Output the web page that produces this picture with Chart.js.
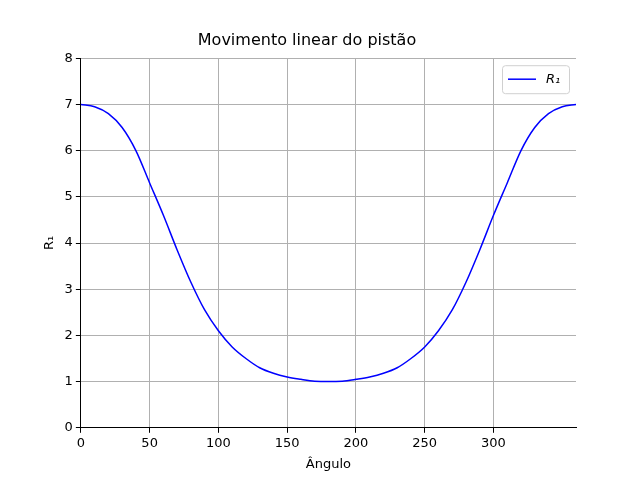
<!DOCTYPE html>
<html>
<head>
<script src="https://cdn.jsdelivr.net/npm/chart.js@4"></script>
<style>body{margin:0;background:#fff}</style>
</head>
<body>
<canvas id="c" width="640" height="480"></canvas>
<script>
// angle in degrees, R1
var angles = [0,10,20,30,40,50,60,70,80,90,100,110,120,130,140,150,160,170,180,
  190,200,210,220,230,240,250,260,270,280,290,300,310,320,330,340,350,360];
var r1 = [7.0,6.95,6.8,6.5,6.0,5.3,4.6,3.85,3.15,2.55,2.1,1.75,1.5,1.3,1.18,1.1,1.05,1.01,1.0,
  1.01,1.05,1.1,1.18,1.3,1.5,1.75,2.1,2.55,3.15,3.85,4.6,5.3,6.0,6.5,6.8,6.95,7.0];
var seriesLabel = 'R\u2081';

var legendBox = {
  id: 'legendBox',
  afterDraw: function(chart) {
    var ctx = chart.ctx, a = chart.chartArea;
    var x = a.right - 74, y = a.top + 7, w = 67, h = 28;
    ctx.save();
    ctx.fillStyle = 'rgba(255,255,255,0.8)';
    ctx.strokeStyle = '#d0d0d0';
    ctx.lineWidth = 1;
    ctx.beginPath();
    ctx.roundRect(x + 0.5, y + 0.5, w, h, 3);
    ctx.fill(); ctx.stroke();
    ctx.strokeStyle = 'blue'; ctx.lineWidth = 1.5;
    ctx.beginPath(); ctx.moveTo(x + 6, y + 14); ctx.lineTo(x + 34, y + 14); ctx.stroke();
    ctx.fillStyle = '#000'; ctx.font = 'italic 13px "DejaVu Sans"';
    ctx.textBaseline = 'middle';
    ctx.fillText(seriesLabel, x + 44, y + 14);
    ctx.restore();
  }
};

Chart.defaults.font.family = '"DejaVu Sans"';
Chart.defaults.font.size = 13;
Chart.defaults.color = '#000';

new Chart(document.getElementById('c'), {
  type: 'line',
  data: {
    datasets: [{
      label: seriesLabel,
      data: angles.map(function(a, i) { return {x: a, y: r1[i]}; }),
      borderColor: 'blue',
      borderWidth: 1.5,
      pointRadius: 0,
      cubicInterpolationMode: 'monotone',
      fill: false
    }]
  },
  options: {
    responsive: false,
    animation: false,
    layout: {padding: {left: 38, right: 64, top: 31, bottom: 4}},
    plugins: {
      legend: {display: false},
      tooltip: {enabled: false},
      title: {display: true, text: 'Movimento linear do pistão', font: {size: 16, weight: 'normal'}, padding: {top: 0, bottom: 8}}
    },
    scales: {
      x: {
        type: 'linear', min: 0, max: 360,
        afterBuildTicks: function(axis) {
          axis.ticks = axis.ticks.filter(function(t) { return t.value <= 350; });
        },
        ticks: {stepSize: 50},
        grid: {color: '#b0b0b0', tickLength: 5, tickColor: '#000'},
        border: {color: '#000'},
        title: {display: true, text: 'Ângulo', padding: {top: 2}}
      },
      y: {
        min: 0, max: 8,
        ticks: {stepSize: 1},
        grid: {color: '#b0b0b0', tickLength: 5, tickColor: '#000'},
        border: {color: '#000'},
        title: {display: true, text: 'R\u2081'}
      }
    }
  },
  plugins: [legendBox]
});
</script>
</body>
</html>
